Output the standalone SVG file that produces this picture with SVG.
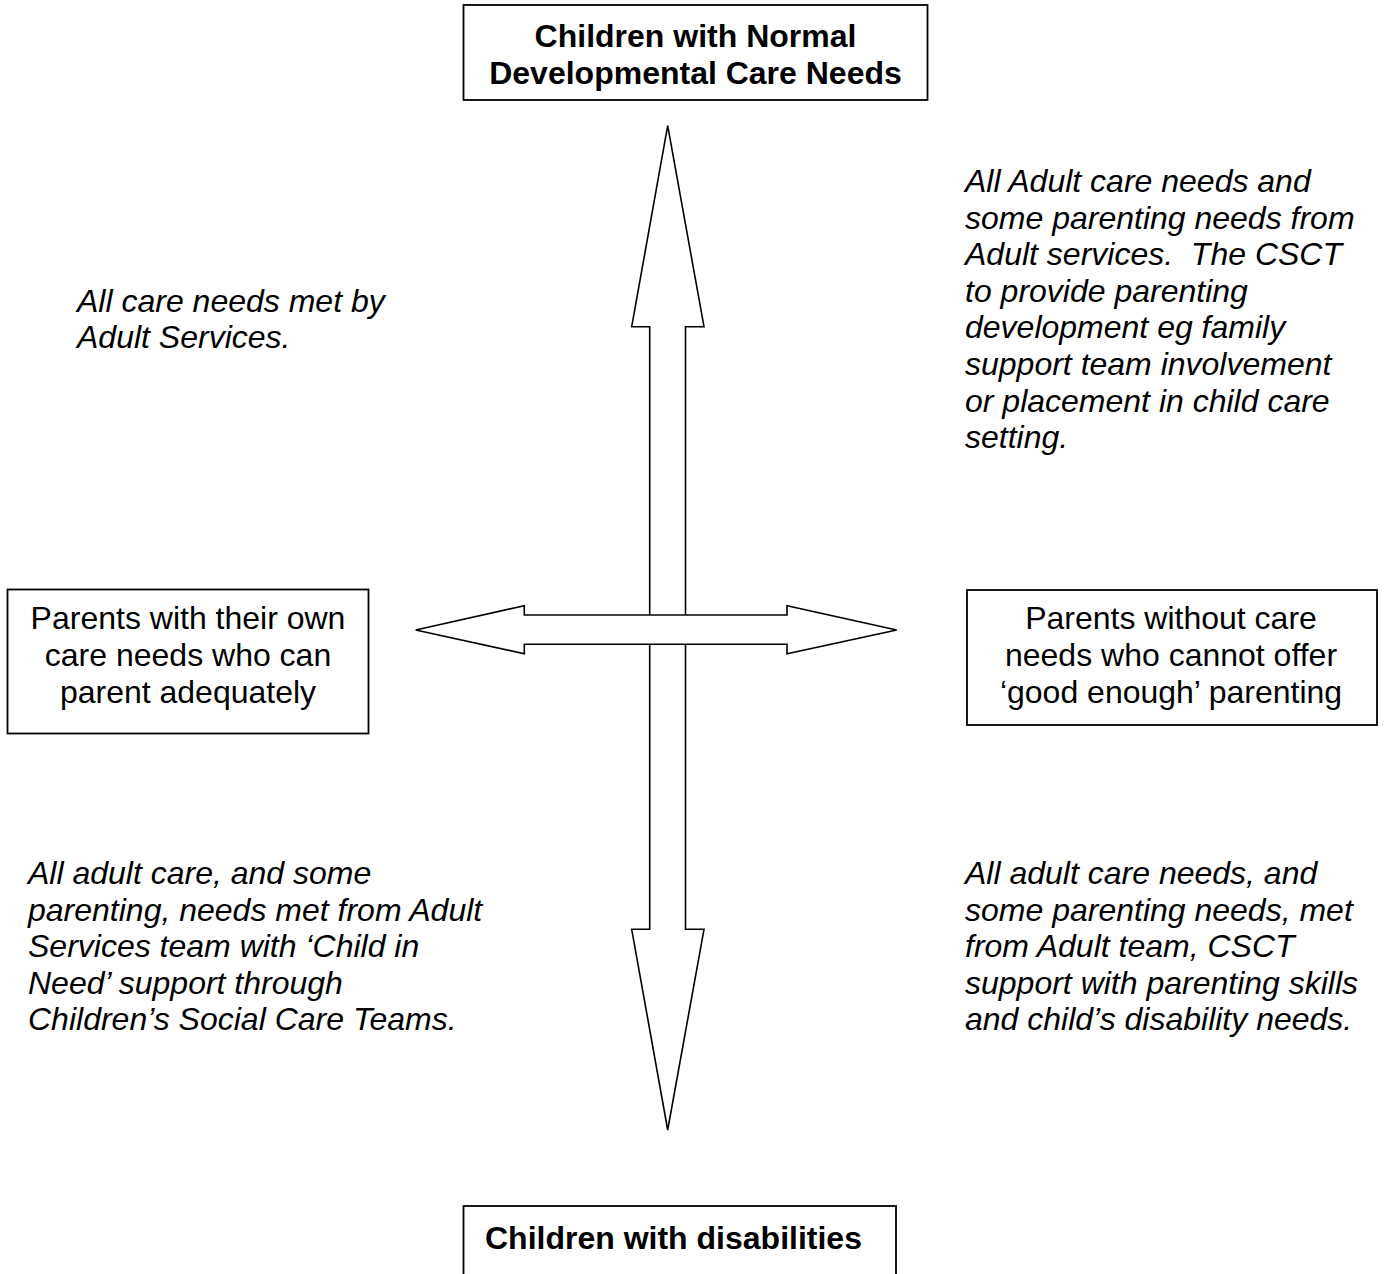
<svg xmlns="http://www.w3.org/2000/svg" width="1385" height="1274" viewBox="0 0 1385 1274">
<style>
.box{fill:#fff;stroke:#000;stroke-width:1.8}
.arrow{fill:#fff;stroke:#000;stroke-width:1.6;stroke-linejoin:miter}
.t{font-family:"Liberation Sans",Arial,sans-serif;font-size:32px;fill:#000}
.b{font-weight:bold}
.i{font-style:italic}
.c{text-anchor:middle}
</style>
<rect width="1385" height="1274" fill="#fff"/>
<g id="connectors">
<polygon class="arrow" points="667.7,125.7 704,326.7 685.5,326.7 685.5,929.3 704,929.3 667.7,1130 631.7,929.3 649.7,929.3 649.7,326.7 631.7,326.7"/>
<polygon class="arrow" points="415.7,630 524.3,605.7 524.3,615 787,615 787,605.7 896.7,630 787,653.7 787,644.3 524.3,644.3 524.3,653.7"/>
</g>
<g id="node-top">
<rect class="box" x="463.5" y="5" width="464" height="95"/>
<text class="t b c" x="695.5" y="47">Children with Normal</text>
<text class="t b c" x="695.5" y="84">Developmental Care Needs</text>
</g>
<g id="node-bottom">
<rect class="box" x="463.5" y="1206" width="432.5" height="100"/>
<text class="t b" x="485" y="1249">Children with disabilities</text>
</g>
<g id="node-left">
<rect class="box" x="7.5" y="589.5" width="361" height="144"/>
<text class="t c" x="188" y="629">Parents with their own</text>
<text class="t c" x="188" y="666">care needs who can</text>
<text class="t c" x="188" y="703">parent adequately</text>
</g>
<g id="node-right">
<rect class="box" x="967" y="590" width="410" height="135"/>
<text class="t c" x="1171" y="629">Parents without care</text>
<text class="t c" x="1171" y="666">needs who cannot offer</text>
<text class="t c" x="1171" y="703">‘good enough’ parenting</text>
</g>
<g id="note-top-left">
<text class="t i" x="77" y="312">All care needs met by</text>
<text class="t i" x="77" y="348">Adult Services.</text>
</g>
<g id="note-top-right">
<text class="t i" x="965" y="192">All Adult care needs and</text>
<text class="t i" x="965" y="228.6">some parenting needs from</text>
<text class="t i" x="965" y="265.2" xml:space="preserve">Adult services.  The CSCT</text>
<text class="t i" x="965" y="301.8">to provide parenting</text>
<text class="t i" x="965" y="338.4">development eg family</text>
<text class="t i" x="965" y="375">support team involvement</text>
<text class="t i" x="965" y="411.6">or placement in child care</text>
<text class="t i" x="965" y="448.2">setting.</text>
</g>
<g id="note-bottom-left">
<text class="t i" x="28" y="884">All adult care, and some</text>
<text class="t i" x="28" y="920.6">parenting, needs met from Adult</text>
<text class="t i" x="28" y="957.2">Services team with ‘Child in</text>
<text class="t i" x="28" y="993.8">Need’ support through</text>
<text class="t i" x="28" y="1030.4">Children’s Social Care Teams.</text>
</g>
<g id="note-bottom-right">
<text class="t i" x="965" y="884">All adult care needs, and</text>
<text class="t i" x="965" y="920.6">some parenting needs, met</text>
<text class="t i" x="965" y="957.2">from Adult team, CSCT</text>
<text class="t i" x="965" y="993.8">support with parenting skills</text>
<text class="t i" x="965" y="1030.4">and child’s disability needs.</text>
</g>
</svg>
